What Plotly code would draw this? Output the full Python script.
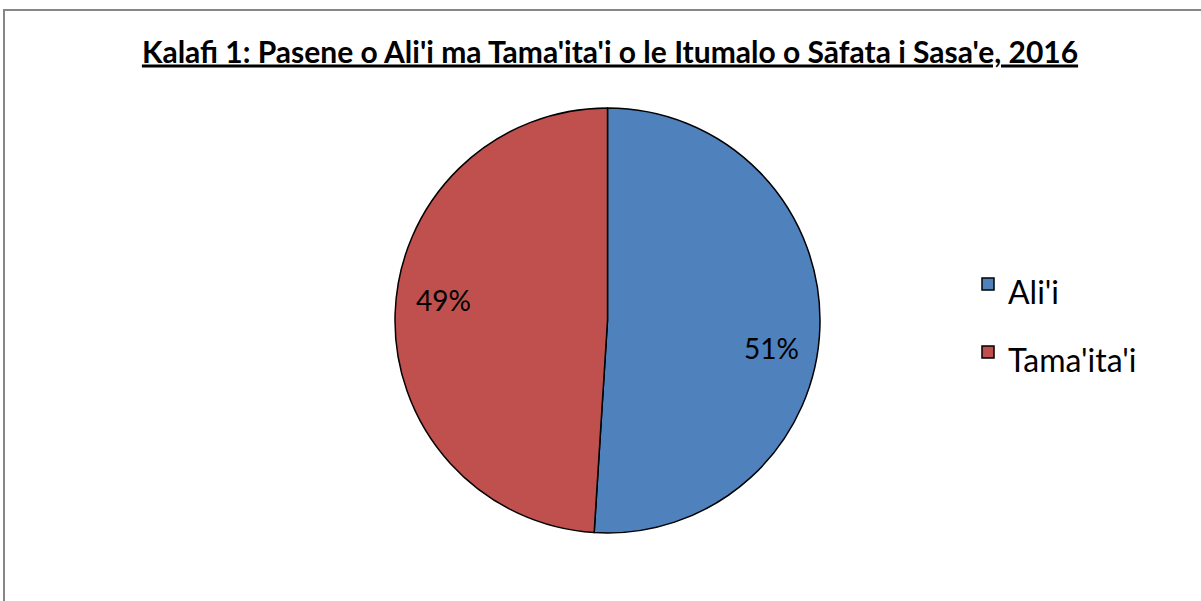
import math
import plotly.graph_objects as go

categories = ["Ali'i", "Tama'ita'i"]
values = [51, 49]
colors = ["#4F81BD", "#C0504D"]
title_text = "Kalafi 1: Pasene o Ali'i ma Tama'ita'i o le Itumalo o Sāfata i Sasa'e, 2016"

W, H = 1201, 601
FONT = "Lato"

# pie geometry (pixels)
CX, CY, R = 607.5, 320.5, 212.5
LABEL_R = 0.77          # label distance as fraction of radius
LABEL_YSHIFT = [-22, 15]  # best-fit nudges (px, +up)


def px(x):
    return x / W


def py(y):
    return 1 - y / H


legend_labels = ['<span style="font-size:32px">%s</span>' % c for c in categories]

fig = go.Figure(
    go.Pie(
        labels=legend_labels,
        values=values,
        sort=False,
        direction="clockwise",
        rotation=0,
        marker=dict(colors=colors, line=dict(color="black", width=1.5)),
        textinfo="none",
        domain=dict(x=[px(CX - R), px(CX + R)], y=[py(CY + R), py(CY - R)]),
        hoverinfo="label+percent",
    )
)

# percentage labels computed from the data (mid-angle of each slice)
total = sum(values)
annotations = []
cum = 0
for v, ys in zip(values, LABEL_YSHIFT):
    mid = (cum + v / 2) / total * 2 * math.pi  # clockwise from 12 o'clock
    cum += v
    lx = CX + LABEL_R * R * math.sin(mid)
    ly = CY - LABEL_R * R * math.cos(mid)
    annotations.append(
        dict(
            x=px(lx), y=py(ly), xref="paper", yref="paper",
            text="%d%%" % round(v / total * 100),
            showarrow=False, yshift=ys,
            font=dict(family=FONT, size=28, color="black"),
        )
    )

fig.update_layout(
    width=W,
    height=H,
    margin=dict(l=0, r=0, t=0, b=0),
    paper_bgcolor="white",
    plot_bgcolor="white",
    font=dict(family=FONT, color="black"),
    title=dict(
        text="<b>" + title_text + "</b>",
        x=px(610),
        xanchor="center",
        y=py(52),
        yanchor="middle",
        font=dict(family=FONT, size=30, color="black", lineposition="under"),
    ),
    legend=dict(
        x=px(968),
        xanchor="left",
        y=py(318),
        yanchor="middle",
        font=dict(family=FONT, size=50, color="black"),
        bgcolor="rgba(0,0,0,0)",
    ),
    annotations=annotations,
    shapes=[
        dict(
            type="rect",
            xref="paper",
            yref="paper",
            x0=px(4),
            x1=1.02,
            y0=-0.02,
            y1=py(10),
            line=dict(color="#868686", width=2),
            fillcolor="rgba(0,0,0,0)",
        )
    ],
)

fig.write_html(
    "out.html",
    config={"displayModeBar": False},
    post_script="document.body.style.margin='0px';document.body.style.overflow='hidden';",
)
